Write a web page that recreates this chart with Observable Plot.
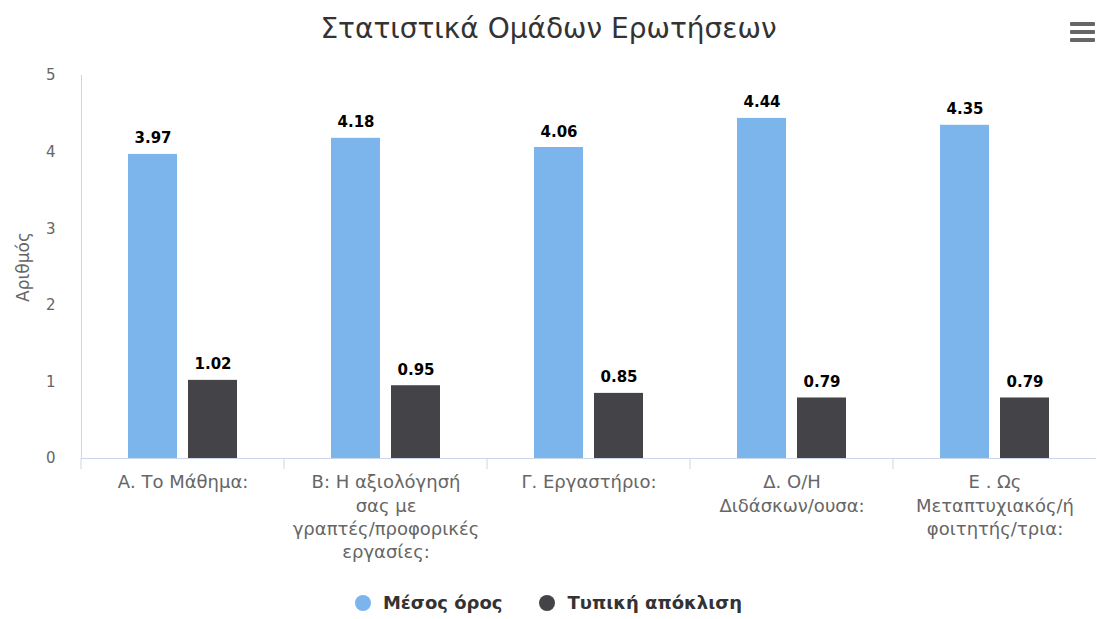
<!DOCTYPE html>
<html>
<head>
<meta charset="utf-8">
<script src="https://cdn.jsdelivr.net/npm/d3@7"></script>
<script src="https://cdn.jsdelivr.net/npm/@observablehq/plot@0.6"></script>
<style>
  body { margin: 0; background: #fff; font-family: "DejaVu Sans", sans-serif; }
  #wrap { position: relative; width: 1097px; height: 619px; overflow: hidden; background: #fff; }
  #title { position: absolute; top: 12px; left: 0; width: 1097px; text-align: center; font-size: 28px; color: #333; }
  #menu { position: absolute; left: 1070px; top: 22px; width: 25px; }
  #menu div { height: 4px; background: #666; margin-bottom: 4px; border-radius: 1px; }
  #chart { position: absolute; top: 50px; left: 0; }
  #legend { position: absolute; top: 592px; left: 0; width: 1097px; display: flex; justify-content: center; align-items: center; gap: 37px; font-size: 18px; font-weight: bold; color: #333; }
  .item { display: flex; align-items: center; }
  .sw { width: 16px; height: 16px; border-radius: 50%; margin-right: 12px; }
</style>
</head>
<body>
<div id="wrap">
  <div id="title"></div>
  <div id="menu"><div></div><div></div><div></div></div>
  <div id="chart"></div>
  <div id="legend"></div>
</div>
<script>
const chartTitle = "Στατιστικά Ομάδων Ερωτήσεων";
const yLabel = "Αριθμός";
const categories = [
  "Α. Το Μάθημα:",
  "Β: Η αξιολόγησή σας με γραπτές/προφορικές εργασίες:",
  "Γ. Εργαστήριο:",
  "Δ. Ο/Η Διδάσκων/ουσα:",
  "Ε . Ως Μεταπτυχιακός/ή φοιτητής/τρια:"
];
const categoryLabels = [
  "Α. Το Μάθημα:",
  "Β: Η αξιολόγησή\nσας με\nγραπτές/προφορικές\nεργασίες:",
  "Γ. Εργαστήριο:",
  "Δ. Ο/Η\nΔιδάσκων/ουσα:",
  "Ε . Ως\nΜεταπτυχιακός/ή\nφοιτητής/τρια:"
];
const seriesNames = ["Μέσος όρος", "Τυπική απόκλιση"];
const seriesColors = ["#7cb5ec", "#434348"];
const meanValues = [3.97, 4.18, 4.06, 4.44, 4.35];
const sdValues = [1.02, 0.95, 0.85, 0.79, 0.79];
const yTicks = [0, 1, 2, 3, 4, 5];

const rows = [];
categories.forEach((c, i) => {
  rows.push({category: c, series: seriesNames[0], value: meanValues[i]});
  rows.push({category: c, series: seriesNames[1], value: sdValues[i]});
});

function categorySeparators(index, scales, values, dimensions) {
  const {marginLeft, height, marginBottom} = dimensions;
  const y0 = height - marginBottom;
  return d3.create("svg:line")
    .attr("x1", marginLeft).attr("x2", marginLeft)
    .attr("y1", y0).attr("y2", y0 + 11)
    .attr("stroke", "#ccd6eb")
    .node();
}

const chart = Plot.plot({
  width: 1097,
  height: 520,
  marginTop: 25,
  marginBottom: 112,
  marginLeft: 81,
  marginRight: 1,
  style: {fontFamily: "DejaVu Sans, sans-serif", background: "transparent"},
  fx: {domain: categories, padding: 0, label: null},
  x: {domain: seriesNames, paddingInner: 0.18, paddingOuter: 0.754, axis: null},
  y: {domain: [0, 5]},
  color: {domain: seriesNames, range: seriesColors},
  marks: [
    Plot.axisY({ticks: yTicks, tickFormat: d3.format("d"), tickSize: 0, tickPadding: 26, fontSize: 15, color: "#666",
      label: null}),
    Plot.axisY({ticks: [], tickSize: 0, fontSize: 17, color: "#666",
      label: yLabel, labelAnchor: "center", labelArrow: "none", labelOffset: 65}),
    Plot.axisFx({anchor: "bottom", tickSize: 0, tickPadding: 13, fontSize: 18, lineHeight: 1.3,
      color: "#666", label: null, tickFormat: d => categoryLabels[categories.indexOf(d)]}),
    Plot.ruleY([0], {stroke: "#ccd6eb"}),
    Plot.frame({anchor: "left", fx: () => categories[0], stroke: "#ccd6eb"}),
    categorySeparators,
    Plot.barY(rows, {fx: "category", x: "series", y: "value", fill: "series"}),
    Plot.text(rows, {fx: "category", x: "series", y: "value", text: d => d.value.toFixed(2),
      lineAnchor: "bottom", dy: -11, fontWeight: "bold", fontSize: 15, fill: "#000"})
  ]
});
document.getElementById("chart").appendChild(chart);
document.getElementById("title").textContent = chartTitle;
const legend = document.getElementById("legend");
seriesNames.forEach((name, i) => {
  const item = document.createElement("div");
  item.className = "item";
  const sw = document.createElement("span");
  sw.className = "sw";
  sw.style.background = seriesColors[i];
  const t = document.createElement("span");
  t.textContent = name;
  item.appendChild(sw); item.appendChild(t);
  legend.appendChild(item);
});
</script>
</body>
</html>
